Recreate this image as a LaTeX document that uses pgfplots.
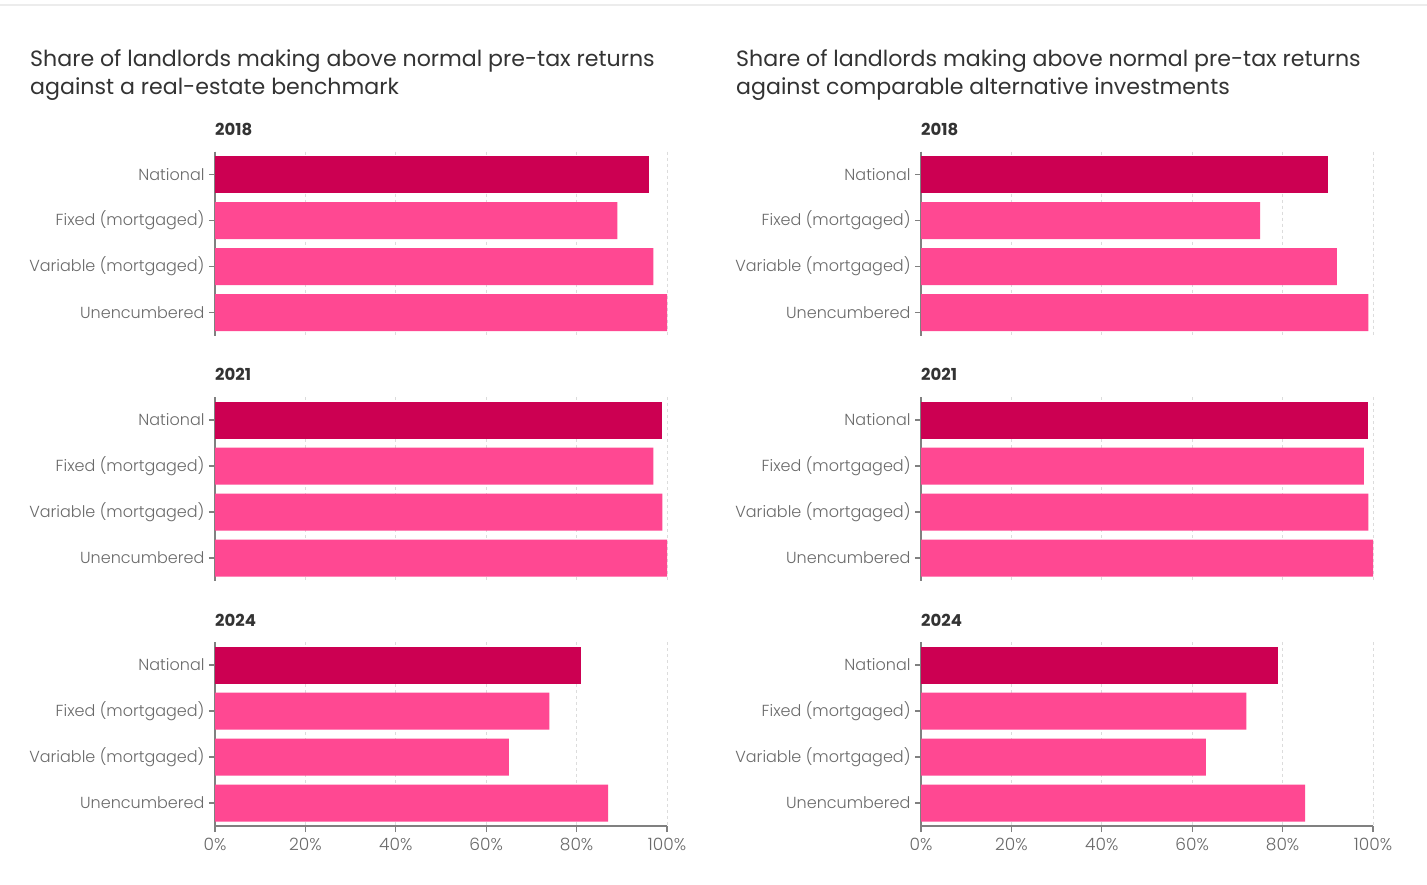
\documentclass[border=0pt]{standalone}
\usepackage{fontspec}
\setmainfont{Poppins}
\newfontfamily\lightfont{Poppins}[UprightFont={* Light}]
\usepackage{pgfplots}
\pgfplotsset{compat=1.18}
\definecolor{natc}{HTML}{CC0052}
\definecolor{barc}{HTML}{FF4892}
\definecolor{lblc}{HTML}{6A6A6A}
\definecolor{ttlc}{HTML}{333333}
\definecolor{axc}{HTML}{808080}
\definecolor{gridc}{HTML}{DCDCDC}
\pgfplotsset{
  panel/.style={
    xbar, scale only axis, width=452pt, height=184pt,
    xmin=0, xmax=100, ymin=-0.5, ymax=3.5, y dir=reverse,
    ytick={0,1,2,3},
    yticklabels={National,Fixed (mortgaged),Variable (mortgaged),Unencumbered},
    xtick={0,20,40,60,80,100},
    axis y line*=left,
    y axis line style={axc, line width=1.2pt},
    tick align=outside, major tick length=6pt,
    every tick/.style={axc, line width=1.1pt},
    yticklabel style={font=\lightfont\fontsize{16}{16}\selectfont, color=lblc, xshift=-1pt},
    xmajorgrids, grid style={gridc, dash pattern=on 3pt off 3pt, line width=0.8pt},
    anchor=north west,
    /pgf/number format/assume math mode=true,
    clip=false,
  },
  hidex/.style={axis x line*=bottom, x axis line style={draw=none}, xtick style={draw=none}, xticklabels={}},
  showx/.style={axis x line*=bottom, x axis line style={axc, line width=1.2pt},
    xticklabel={\pgfmathprintnumber{\tick}\%},
    xticklabel style={font=\lightfont\fontsize{17}{17}\selectfont, color=lblc, yshift=-3pt}},
  nat/.style={fill=natc, draw=none, bar shift=0pt, bar width=37pt},
  oth/.style={fill=barc, draw=none, bar shift=0pt, bar width=37pt},
}
\begin{document}
\begin{tikzpicture}
\fill[white] (0,0) rectangle (1427pt,-884pt);
\path[use as bounding box] (0,0) rectangle (1427pt,-884pt);
\draw[gray!15, line width=2pt] (0,-5pt) -- (1427pt,-5pt);
% titles
\node[anchor=base west, inner sep=0pt, text=ttlc, font=\fontsize{22.1}{24}\selectfont] at (30pt,-66pt) {Share of landlords making above normal pre-tax returns};
\node[anchor=base west, inner sep=0pt, text=ttlc, font=\fontsize{22.1}{24}\selectfont] at (30pt,-94pt) {against a real-estate benchmark};
\node[anchor=base west, inner sep=0pt, text=ttlc, font=\fontsize{22.1}{24}\selectfont] at (736pt,-66pt) {Share of landlords making above normal pre-tax returns};
\node[anchor=base west, inner sep=0pt, text=ttlc, font=\fontsize{22.1}{24}\selectfont] at (736pt,-94pt) {against comparable alternative investments};
% year labels
\foreach \xx in {215,921}{
\node[anchor=base west, inner sep=0pt, text=ttlc, font=\fontsize{16.5}{18}\selectfont\bfseries] at (\xx pt,-135pt) {2018};
\node[anchor=base west, inner sep=0pt, text=ttlc, font=\fontsize{16.5}{18}\selectfont\bfseries] at (\xx pt,-380pt) {2021};
\node[anchor=base west, inner sep=0pt, text=ttlc, font=\fontsize{16.5}{18}\selectfont\bfseries] at (\xx pt,-626pt) {2024};
}
% left column
\begin{axis}[panel, hidex, at={(215pt,-151.5pt)}]
\addplot[nat] coordinates {(96,0)};
\addplot[oth] coordinates {(89,1) (97,2) (100,3)};
\end{axis}
\begin{axis}[panel, hidex, at={(215pt,-397pt)}]
\addplot[nat] coordinates {(99,0)};
\addplot[oth] coordinates {(97,1) (99,2) (100,3)};
\end{axis}
\begin{axis}[panel, showx, at={(215pt,-642pt)}]
\addplot[nat] coordinates {(81,0)};
\addplot[oth] coordinates {(74,1) (65,2) (87,3)};
\end{axis}
% right column
\begin{axis}[panel, hidex, at={(921pt,-151.5pt)}]
\addplot[nat] coordinates {(90,0)};
\addplot[oth] coordinates {(75,1) (92,2) (99,3)};
\end{axis}
\begin{axis}[panel, hidex, at={(921pt,-397pt)}]
\addplot[nat] coordinates {(99,0)};
\addplot[oth] coordinates {(98,1) (99,2) (100,3)};
\end{axis}
\begin{axis}[panel, showx, at={(921pt,-642pt)}]
\addplot[nat] coordinates {(79,0)};
\addplot[oth] coordinates {(72,1) (63,2) (85,3)};
\end{axis}
\end{tikzpicture}
\end{document}
